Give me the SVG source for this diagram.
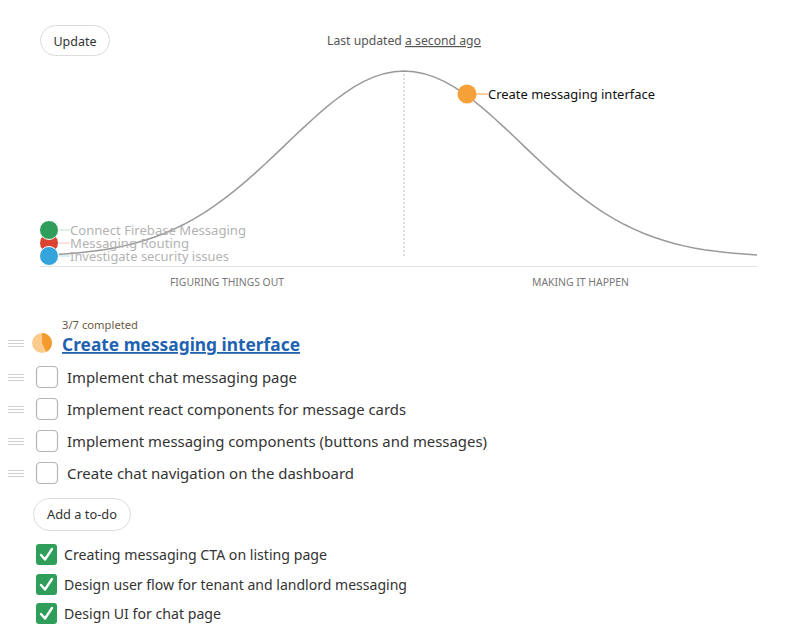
<svg xmlns="http://www.w3.org/2000/svg" width="786" height="642" viewBox="0 0 786 642">
<style>
text{font-family:"Noto Sans","Open Sans","Liberation Sans",sans-serif;}
.btn{fill:#fff;stroke:#dcdcdc;stroke-width:1;}
.btnt{font-size:13px;fill:#333;text-anchor:middle;}
.axis{font-size:10px;fill:#777;text-anchor:middle;}
.dotlbl{font-size:13px;fill:#b3b3b3;}
.item{font-size:15px;fill:#333;}
.done{font-size:14.5px;fill:#333;}
.box{fill:#fff;stroke:#b5b5b5;stroke-width:1.2;}
.chk{fill:#2f9e5a;}
.tick{fill:none;stroke:#fff;stroke-width:2.4;stroke-linecap:round;stroke-linejoin:round;}
.hdl{stroke:#cfcfcf;stroke-width:1;}
</style>
<rect width="786" height="642" fill="#fff"/>
<g id="update-button">
<rect class="btn" x="40.5" y="25.5" width="69" height="30" rx="15"/>
<text class="btnt" x="75" y="46" textLength="43" lengthAdjust="spacingAndGlyphs">Update</text>
</g>
<g id="last-updated">
<text x="327" y="45" font-size="12" fill="#555" textLength="154" lengthAdjust="spacingAndGlyphs">Last updated <tspan text-decoration="underline">a second ago</tspan></text>
</g>
<g id="hill-chart">
<line x1="40" y1="266.5" x2="757" y2="266.5" stroke="#e2e2e2" stroke-width="1"/>
<line x1="404" y1="74" x2="404" y2="258" stroke="#bdbdbd" stroke-width="1" stroke-dasharray="2,2"/>
<polyline fill="none" stroke="#999" stroke-width="1.5" points="56,254.6 64,254.07 74,253.28 84,252.3 94,251.1 104,249.66 114,247.92 124,245.86 134,243.43 144,240.58 154,237.29 164,233.49 174,229.16 184,224.29 194,218.83 204,212.77 214,206.12 224,198.89 234,191.11 244,182.82 254,174.09 264,164.99 274,155.62 284,146.09 294,136.55 304,127.11 314,117.94 324,109.19 334,101.01 344,93.55 354,86.97 364,81.38 374,76.91 384,73.65 394,71.67 404,71 414,71.67 424,73.65 434,76.91 444,81.38 454,86.97 464,93.55 474,101.01 484,109.19 494,117.94 504,127.11 514,136.55 524,146.09 534,155.62 544,164.99 554,174.09 564,182.82 574,191.11 584,198.89 594,206.12 604,212.77 614,218.83 624,224.29 634,229.16 644,233.49 654,237.29 664,240.58 674,243.43 684,245.86 694,247.92 704,249.66 714,251.1 724,252.3 734,253.28 744,254.07 754,254.72 757,254.88"/>
<text class="axis" x="227" y="286" textLength="114" lengthAdjust="spacingAndGlyphs">FIGURING THINGS OUT</text>
<text class="axis" x="580.5" y="286" textLength="97" lengthAdjust="spacingAndGlyphs">MAKING IT HAPPEN</text>
</g>
<g id="dot-routing">
<line x1="58" y1="243" x2="70" y2="243" stroke="#f3c2ba" stroke-width="1"/>
<circle cx="49" cy="243" r="9.5" fill="#d9432f" stroke="#fff" stroke-width="1"/>
<text class="dotlbl" x="70" y="248" textLength="119" lengthAdjust="spacingAndGlyphs">Messaging Routing</text>
</g>
<g id="dot-firebase">
<line x1="58" y1="230" x2="70" y2="230" stroke="#bfe3cc" stroke-width="1"/>
<circle cx="49" cy="230" r="9.5" fill="#2f9e5a" stroke="#fff" stroke-width="1"/>
<text class="dotlbl" x="70" y="235" textLength="176" lengthAdjust="spacingAndGlyphs">Connect Firebase Messaging</text>
</g>
<g id="dot-security">
<line x1="58" y1="256" x2="70" y2="256" stroke="#b9def2" stroke-width="1"/>
<circle cx="49" cy="256" r="9.5" fill="#35a3dc" stroke="#fff" stroke-width="1"/>
<text class="dotlbl" x="70" y="261" textLength="159" lengthAdjust="spacingAndGlyphs">Investigate security issues</text>
</g>
<g id="dot-messaging-interface">
<line x1="476" y1="94" x2="488" y2="94" stroke="#f6a03a" stroke-width="1"/>
<circle cx="467" cy="94" r="9.5" fill="#f6a03a"/>
<text x="488" y="99" font-size="13" fill="#111" textLength="167" lengthAdjust="spacingAndGlyphs">Create messaging interface</text>
</g>
<g id="list-header">
<text x="62" y="329" font-size="11" fill="#6b5a44" textLength="76" lengthAdjust="spacingAndGlyphs">3/7 completed</text>
<g class="hdl"><line x1="8" y1="340.5" x2="24" y2="340.5"/><line x1="8" y1="343.5" x2="24" y2="343.5"/><line x1="8" y1="346.5" x2="24" y2="346.5"/></g>
<circle cx="42" cy="343" r="10" fill="#fbcb8e"/>
<path d="M42,343 L42,333 A10,10 0 0 1 46.34,352.01 Z" fill="#f59a2f"/>
<text x="62" y="351" font-size="18" font-weight="bold" fill="#1f63b0" text-decoration="underline" textLength="238" lengthAdjust="spacingAndGlyphs">Create messaging interface</text>
</g>
<g id="todo-1">
<g class="hdl"><line x1="8" y1="374.5" x2="24" y2="374.5"/><line x1="8" y1="377.5" x2="24" y2="377.5"/><line x1="8" y1="380.5" x2="24" y2="380.5"/></g>
<rect class="box" x="36.5" y="366.5" width="21" height="21" rx="4"/>
<text class="item" x="67" y="383" textLength="230" lengthAdjust="spacingAndGlyphs">Implement chat messaging page</text>
</g>
<g id="todo-2">
<g class="hdl"><line x1="8" y1="406.5" x2="24" y2="406.5"/><line x1="8" y1="409.5" x2="24" y2="409.5"/><line x1="8" y1="412.5" x2="24" y2="412.5"/></g>
<rect class="box" x="36.5" y="398.5" width="21" height="21" rx="4"/>
<text class="item" x="67" y="415" textLength="339" lengthAdjust="spacingAndGlyphs">Implement react components for message cards</text>
</g>
<g id="todo-3">
<g class="hdl"><line x1="8" y1="438.5" x2="24" y2="438.5"/><line x1="8" y1="441.5" x2="24" y2="441.5"/><line x1="8" y1="444.5" x2="24" y2="444.5"/></g>
<rect class="box" x="36.5" y="430.5" width="21" height="21" rx="4"/>
<text class="item" x="67" y="447" textLength="420" lengthAdjust="spacingAndGlyphs">Implement messaging components (buttons and messages)</text>
</g>
<g id="todo-4">
<g class="hdl"><line x1="8" y1="470.5" x2="24" y2="470.5"/><line x1="8" y1="473.5" x2="24" y2="473.5"/><line x1="8" y1="476.5" x2="24" y2="476.5"/></g>
<rect class="box" x="36.5" y="462.5" width="21" height="21" rx="4"/>
<text class="item" x="67" y="479" textLength="287" lengthAdjust="spacingAndGlyphs">Create chat navigation on the dashboard</text>
</g>
<g id="add-todo-button">
<rect class="btn" x="33.5" y="498.5" width="97" height="32" rx="16"/>
<text class="btnt" x="82" y="519" textLength="70" lengthAdjust="spacingAndGlyphs">Add a to-do</text>
</g>
<g id="done-1">
<rect class="chk" x="36" y="544" width="21" height="21" rx="3"/>
<path class="tick" d="M41,555 L45,559.5 L52,549"/>
<text class="done" x="64" y="559.5" textLength="263" lengthAdjust="spacingAndGlyphs">Creating messaging CTA on listing page</text>
</g>
<g id="done-2">
<rect class="chk" x="36" y="574" width="21" height="21" rx="3"/>
<path class="tick" d="M41,585 L45,589.5 L52,579"/>
<text class="done" x="64" y="589.5" textLength="343" lengthAdjust="spacingAndGlyphs">Design user flow for tenant and landlord messaging</text>
</g>
<g id="done-3">
<rect class="chk" x="36" y="603" width="21" height="21" rx="3"/>
<path class="tick" d="M41,614 L45,618.5 L52,608"/>
<text class="done" x="64" y="618.5" textLength="157" lengthAdjust="spacingAndGlyphs">Design UI for chat page</text>
</g>
</svg>
